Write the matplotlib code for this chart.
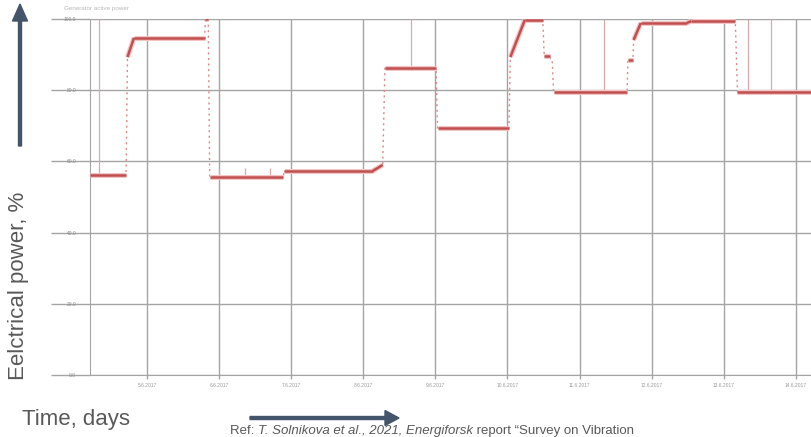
import matplotlib
matplotlib.use("Agg")
import matplotlib.pyplot as plt
import numpy as np

# ---- data (time in days, electrical power in %) ----
t_days = [0.21, 0.71, 0.73, 0.82, 1.80, 1.81, 1.85, 1.87, 2.89, 2.90, 4.13, 4.27,
          4.30, 5.01, 5.03, 6.02, 6.04, 6.24, 6.49, 6.51, 6.59, 6.60, 6.62, 6.64,
          7.66, 7.67, 7.74, 7.75, 7.85, 8.49, 8.55, 9.16, 9.19, 10.21]
power = [56.2, 56.2, 89.3, 94.7, 94.7, 100.0, 100.0, 55.6, 55.6, 57.3, 57.3, 59.0,
         86.2, 86.2, 69.4, 69.4, 89.3, 99.7, 99.7, 89.6, 89.6, 88.5, 88.5, 79.5,
         79.5, 88.5, 88.5, 94.1, 98.9, 98.9, 99.4, 99.4, 79.5, 79.5]

spike_days = [0.33, 2.00, 2.36, 2.71, 4.66, 7.34, 9.34, 9.65]
spike_base = [56.2, 55.6, 55.6, 55.6, 86.2, 79.5, 79.5, 79.5]
spike_top = [100.0, 58.2, 58.2, 58.2, 100.0, 100.0, 100.0, 100.0]

y_ticks = [0, 20, 40, 60, 80, 100]
x_ticks = [1, 2, 3, 4, 5, 6, 7, 8, 9, 10]
x_tick_labels = ["5.6.2017", "6.6.2017", "7.6.2017", "8.6.2017", "9.6.2017",
                 "10.6.2017", "11.6.2017", "12.6.2017", "13.6.2017", "14.6.2017"]

W, H = 811, 437
fig = plt.figure(figsize=(W / 100, H / 100), dpi=100)
plt.rcParams['font.family'] = ['Liberation Sans', 'DejaVu Sans']

ax = fig.add_axes([90 / W, 1 - 375 / H, (811 - 90) / W, (375 - 19) / H])
ax.set_xlim(0.21, 10.21)
ax.set_ylim(0, 100)

grid_c = '#a4a4a4'
ax.set_xticks(x_ticks)
ax.set_xticklabels(x_tick_labels, fontsize=3.5, color='#9a9a9a')
ax.set_yticks(y_ticks)
ax.set_yticklabels([f"{v:.1f}" for v in y_ticks], fontsize=3.5, color='#8a8a8a')
ax.grid(True, color=grid_c, lw=1.0)
ax.tick_params(axis='y', length=28, color=grid_c, width=1.0, pad=-18)
ax.tick_params(axis='x', length=3, color=grid_c, width=1.0, pad=3)
for s in ['top', 'right']:
    ax.spines[s].set_visible(False)
ax.spines['left'].set_color(grid_c)
ax.spines['bottom'].set_color(grid_c)
ax.set_axisbelow(True)

# spikes
ax.vlines(spike_days, spike_base, spike_top, color='#d8a8a8', lw=0.9, zorder=2)

# thin dotted full trace (jumps)
ax.plot(t_days, power, color='#d98a8a', lw=1.0, ls=(0, (1.5, 2.5)), zorder=3)
# thick on plateaus / ramps
t = np.array(t_days)
p = np.array(power)
for i in range(len(t) - 1):
    if t[i + 1] - t[i] >= 0.035:
        ax.plot(t[i:i + 2], p[i:i + 2], color='#f2c4c4', lw=3.6, zorder=3,
                solid_capstyle='butt')
        ax.plot(t[i:i + 2], p[i:i + 2], color='#c24f4f', lw=1.8, zorder=4,
                solid_capstyle='butt')

# small faded title of the embedded chart
fig.text(64 / W, 1 - 10 / H, "Generator active power", fontsize=4.5,
         color='#b8b8b8')

txt_c = '#595959'
arrow_c = '#44546a'
# y label and arrow
fig.text(19 / W, 1 - 286 / H, "Eelctrical power, %", rotation=90, fontsize=16,
         color=txt_c, ha='center', va='center')
fig.add_artist(matplotlib.patches.FancyArrow(
    20 / W, 1 - 146 / H, 0, (146 - 21) / H, width=3 / W, head_width=15 / W,
    head_length=17 / H, length_includes_head=False, color=arrow_c,
    transform=fig.transFigure))
# x label and arrow
fig.text(22 / W, 1 - 425 / H, "Time, days", fontsize=16, color=txt_c,
         ha='left', va='baseline')
fig.add_artist(matplotlib.patches.FancyArrow(
    250 / W, 1 - 418 / H, (385 - 250) / W, 0, width=3 / H, head_width=15 / H,
    head_length=14 / W, length_includes_head=False, color=arrow_c,
    transform=fig.transFigure))

# reference line
yb = 1 - 434 / H
t1 = fig.text(230 / W, yb, "Ref: ", fontsize=9.5, color=txt_c, va='baseline')
fig.canvas.draw()
bb = t1.get_window_extent()
t2 = fig.text(bb.x1 / W, yb, "T. Solnikova et al., 2021, Energiforsk", fontsize=9.5,
              color=txt_c, style='italic', va='baseline')
fig.canvas.draw()
bb = t2.get_window_extent()
fig.text(bb.x1 / W, yb, " report \u201cSurvey on Vibration", fontsize=9.5,
         color=txt_c, va='baseline')

fig.savefig("out.png", dpi=100)
